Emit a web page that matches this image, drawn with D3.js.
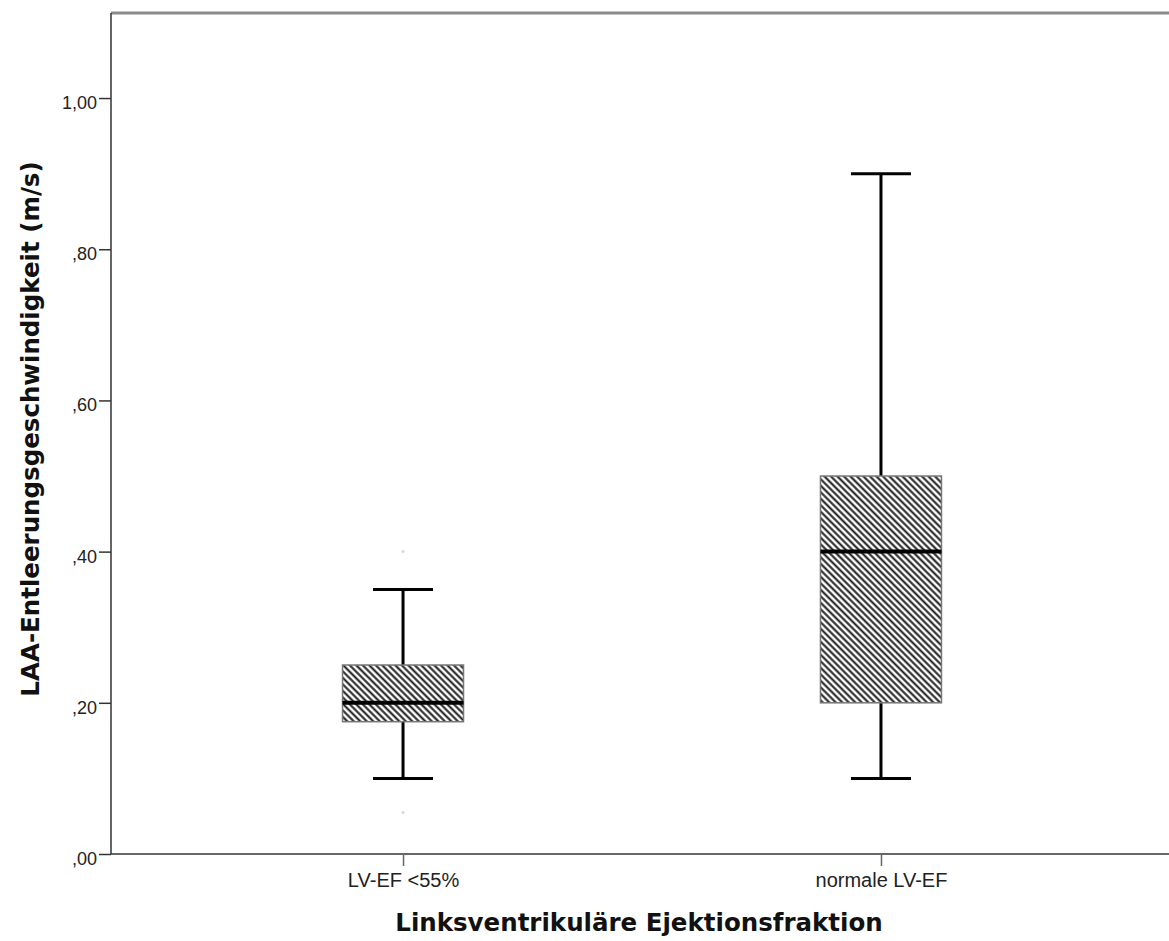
<!DOCTYPE html>
<html>
<head>
<meta charset="utf-8">
<script src="https://cdn.jsdelivr.net/npm/d3@7"></script>
<style>
  html, body { margin: 0; padding: 0; background: #fff; }
  svg { display: block; font-family: "Liberation Sans", Arial, sans-serif; }
</style>
</head>
<body>
<script>
// Group categories and five-number summaries (m/s)
const categories = ["LV-EF <55%", "normale LV-EF"];
const whiskerLow = [0.10, 0.10];
const q1 = [0.175, 0.20];
const median = [0.20, 0.40];
const q3 = [0.25, 0.50];
const whiskerHigh = [0.35, 0.90];
// Outliers per group (value, group index)
const outliers = [
  { group: 0, value: 0.40 },
  { group: 0, value: 0.055 }
];
const yTicks = [0, 0.2, 0.4, 0.6, 0.8, 1.0];
const xTitle = "Linksventrikuläre Ejektionsfraktion";
const yTitle = "LAA-Entleerungsgeschwindigkeit (m/s)";

const W = 1169, H = 941;
const margin = { left: 111, top: 13, bottom: 854, right: 1173 };

const svg = d3.select("body").append("svg")
  .attr("width", W).attr("height", H);

// Diagonal hatching for box fill (lines running top-left to bottom-right)
const defs = svg.append("defs");
const pat = defs.append("pattern")
  .attr("id", "hatch")
  .attr("patternUnits", "userSpaceOnUse")
  .attr("width", 8).attr("height", 4.6)
  .attr("patternTransform", "rotate(45)");
pat.append("rect").attr("width", 8).attr("height", 4.6).attr("fill", "#fff");
pat.append("line")
  .attr("x1", 0).attr("y1", 2.3).attr("x2", 8).attr("y2", 2.3)
  .attr("stroke", "#1a1a1a").attr("stroke-width", 2);

const y = d3.scaleLinear().domain([0, 1.1125]).range([margin.bottom, margin.top]);
const x = d3.scalePoint().domain(categories).range([margin.left, margin.right]).padding(0.611);
const boxW = 121, capW = 60;

const fmt = v => {
  const s = d3.format(".2f")(v).replace(".", ",");
  return s.startsWith("0,") ? s.slice(1) : s;
};

// Top frame line
svg.append("line")
  .attr("x1", margin.left).attr("x2", W)
  .attr("y1", margin.top).attr("y2", margin.top)
  .attr("stroke", "#8a8a8a").attr("stroke-width", 3);

// Y axis
const yAxis = svg.append("g")
  .attr("transform", `translate(${margin.left},0)`)
  .call(d3.axisLeft(y).tickValues(yTicks).tickFormat(fmt).tickSize(12).tickPadding(2));
yAxis.select(".domain").attr("stroke", "#333").attr("stroke-width", 1.5)
  .attr("d", `M0,${margin.top}V${margin.bottom}`);
yAxis.selectAll(".tick line").attr("stroke", "#333").attr("stroke-width", 1.5);
yAxis.selectAll(".tick text").attr("font-size", 18).attr("fill", "#222")
  .attr("dy", "0.58em")
  .attr("font-family", "Liberation Sans, Arial, sans-serif");

// X axis
const xAxis = svg.append("g")
  .attr("transform", `translate(0,${margin.bottom})`)
  .call(d3.axisBottom(x).tickSize(12).tickPadding(7));
xAxis.select(".domain").attr("stroke", "#333").attr("stroke-width", 1.5)
  .attr("d", `M${margin.left},0H${W}`);
xAxis.selectAll(".tick line").attr("stroke", "#666").attr("stroke-width", 1.5);
xAxis.selectAll(".tick text").attr("font-size", 20).attr("fill", "#222")
  .attr("font-family", "Liberation Sans, Arial, sans-serif");

// Boxes
const groups = categories.map((c, i) => ({
  cat: c, lo: whiskerLow[i], q1: q1[i], med: median[i], q3: q3[i], hi: whiskerHigh[i]
}));
const g = svg.append("g");
groups.forEach(d => {
  const cx = x(d.cat);
  // whisker stems
  g.append("line").attr("x1", cx).attr("x2", cx)
    .attr("y1", y(d.hi)).attr("y2", y(d.q3))
    .attr("stroke", "#000").attr("stroke-width", 3);
  g.append("line").attr("x1", cx).attr("x2", cx)
    .attr("y1", y(d.q1)).attr("y2", y(d.lo))
    .attr("stroke", "#000").attr("stroke-width", 3);
  // caps
  [d.hi, d.lo].forEach(v => {
    g.append("line").attr("x1", cx - capW / 2).attr("x2", cx + capW / 2)
      .attr("y1", y(v)).attr("y2", y(v))
      .attr("stroke", "#000").attr("stroke-width", 3);
  });
  // box
  g.append("rect")
    .attr("x", cx - boxW / 2).attr("width", boxW)
    .attr("y", y(d.q3)).attr("height", y(d.q1) - y(d.q3))
    .attr("fill", "url(#hatch)")
    .attr("stroke", "#777").attr("stroke-width", 1.5);
  // median
  g.append("line").attr("x1", cx - boxW / 2).attr("x2", cx + boxW / 2)
    .attr("y1", y(d.med)).attr("y2", y(d.med))
    .attr("stroke", "#000").attr("stroke-width", 4);
});

// Faint outlier marks
g.selectAll(".outlier").data(outliers).enter().append("circle")
  .attr("class", "outlier")
  .attr("cx", d => x(categories[d.group]))
  .attr("cy", d => y(d.value))
  .attr("r", 1.5)
  .attr("fill", "#d8d8d8");

// Axis titles
svg.append("text")
  .attr("x", 639).attr("y", 931)
  .attr("text-anchor", "middle")
  .attr("font-family", "DejaVu Sans, sans-serif")
  .attr("font-size", 24.5).attr("font-weight", "bold").attr("fill", "#111")
  .text(xTitle);
svg.append("text")
  .attr("transform", `translate(39,429) rotate(-90)`)
  .attr("text-anchor", "middle")
  .attr("font-family", "DejaVu Sans, sans-serif")
  .attr("font-size", 24.5).attr("font-weight", "bold").attr("fill", "#111")
  .text(yTitle);
</script>
</body>
</html>
